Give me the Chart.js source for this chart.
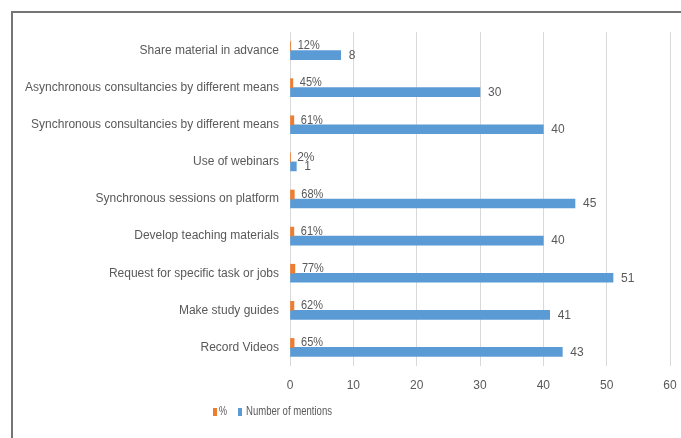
<!DOCTYPE html>
<html>
<head>
<meta charset="utf-8">
<script src="https://cdn.jsdelivr.net/npm/chart.js@4/dist/chart.umd.min.js"></script>
<style>
  html, body { margin: 0; padding: 0; background: #fff; }
  #wrap { position: relative; width: 681px; height: 438px; overflow: hidden; }
  #frame { position: absolute; left: 11px; top: 11px; width: 700px; height: 460px;
           border-top: 2px solid #757575; border-left: 2px solid #757575; pointer-events: none; }
  canvas { position: absolute; left: 0; top: 0; }
</style>
</head>
<body>
<div id="wrap">
  <canvas id="c" width="681" height="438"></canvas>
  <div id="frame"></div>
</div>
<script>
const categories = [
  "Share material in advance",
  "Asynchronous consultancies by different means",
  "Synchronous consultancies by different means",
  "Use of webinars",
  "Synchronous sessions on platform",
  "Develop teaching materials",
  "Request for specific task or jobs",
  "Make study guides",
  "Record Videos"
];
const percentValues = [0.12, 0.45, 0.61, 0.02, 0.68, 0.61, 0.77, 0.62, 0.65];
const mentionValues = [8, 30, 40, 1, 45, 40, 51, 41, 43];
const xTicks = [0, 10, 20, 30, 40, 50, 60];

const FONT = "'Liberation Sans', Arial, sans-serif";
const TEXT = '#595959';
const ORANGE = '#ED7D31';
const BLUE = '#5B9BD5';

const labelPlugin = {
  id: 'valueLabels',
  afterDatasetsDraw(chart) {
    const ctx = chart.ctx;
    ctx.save();
    ctx.font = '12px ' + FONT;
    ctx.fillStyle = TEXT;
    ctx.textAlign = 'left';
    ctx.textBaseline = 'middle';
    chart.data.datasets.forEach((ds, di) => {
      const meta = chart.getDatasetMeta(di);
      meta.data.forEach((bar, i) => {
        const v = ds.data[i];
        const txt = di === 0 ? Math.round(v * 100) + '%' : String(v);
        const off = di === 0 ? 7 : 8;
        const dy = di === 0 ? 0 : 0.5;
        ctx.fillText(txt, bar.x + off, bar.y + dy, di === 0 ? 22 : 14);
      });
    });
    ctx.restore();
  }
};

const legendPlugin = {
  id: 'customLegend',
  afterDraw(chart) {
    const ctx = chart.ctx;
    ctx.save();
    ctx.font = '12px ' + FONT;
    ctx.textBaseline = 'middle';
    ctx.textAlign = 'left';
    const y = 412;
    const slots = [{ box: 213, text: 219, w: 8 }, { box: 238, text: 246, w: 86 }];
    chart.data.datasets.forEach((ds, i) => {
      const s = slots[i];
      ctx.fillStyle = ds.backgroundColor;
      ctx.fillRect(s.box, y - 4, 4, 8);
      ctx.fillStyle = TEXT;
      ctx.fillText(ds.label, s.text, y, s.w);
    });
    ctx.restore();
  }
};

new Chart(document.getElementById('c'), {
  type: 'bar',
  data: {
    labels: categories,
    datasets: [
      { label: '%', data: percentValues, backgroundColor: ORANGE, barThickness: 9 },
      { label: 'Number of mentions', data: mentionValues, backgroundColor: BLUE, barThickness: 9 }
    ]
  },
  options: {
    indexAxis: 'y',
    responsive: false,
    animation: false,
    layout: { padding: { left: 0, right: 11, top: 32, bottom: 40 } },
    plugins: { legend: { display: false }, tooltip: { enabled: false } },
    scales: {
      x: {
        min: 0, max: 60,
        afterBuildTicks(scale) { scale.ticks = xTicks.map(v => ({ value: v })); },
        grid: { color: '#d9d9d9', lineWidth: 1, drawTicks: false },
        border: { display: false },
        ticks: { color: TEXT, font: { family: FONT, size: 12 }, padding: 12 },
        afterFit(scale) { scale.height = 32; scale.paddingLeft = 0; scale.paddingRight = 0; }
      },
      y: {
        grid: { display: false, drawTicks: false },
        border: { display: false },
        ticks: { color: TEXT, font: { family: FONT, size: 12 }, padding: 11 },
        afterFit(scale) { scale.width = 290; scale.paddingTop = 0; scale.paddingBottom = 0; }
      }
    }
  },
  plugins: [labelPlugin, legendPlugin]
});
</script>
</body>
</html>
